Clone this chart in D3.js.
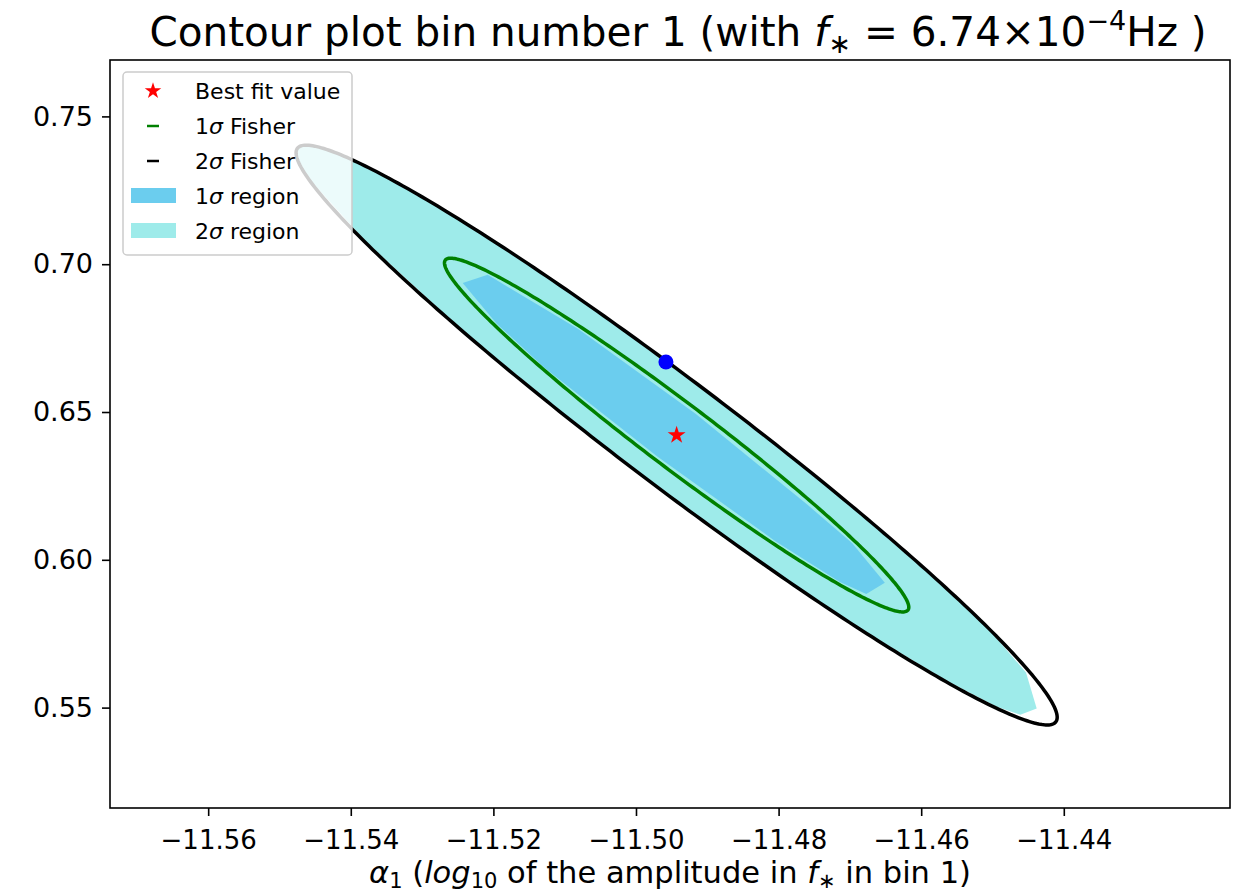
<!DOCTYPE html>
<html>
<head>
<meta charset="utf-8">
<script src="https://cdn.jsdelivr.net/npm/d3@7"></script>
<style>
  body { margin: 0; background: #fff; }
  text { font-family: "DejaVu Sans", sans-serif; fill: #000; }
</style>
</head>
<body>
<div id="chart"></div>
<script>
// axis limits and ticks
var xDomain = [-11.57377, -11.41669];
var yDomain = [0.51604, 0.76908];
var xTicks = [-11.56, -11.54, -11.52, -11.50, -11.48, -11.46, -11.44];
var yTicks = [0.55, 0.60, 0.65, 0.70, 0.75];

// best fit and the extra point
var bestFit = [-11.4943, 0.6422];
var bluePoint = [-11.4958, 0.6669];

// Fisher errors: sigma_x, sigma_y, correlation; contour levels in delta chi^2
var fisherSigma = [0.02147, 0.03945];
var fisherRho = -0.9734;
var fisherLevels = [2.30, 6.18];

// sampled contour regions (x, y)
var region2 = [
  [-11.5474, 0.7393], [-11.5458, 0.7403], [-11.5427, 0.7384], [-11.5321, 0.7258],
  [-11.5169, 0.7032], [-11.4991, 0.6732], [-11.4806, 0.6395], [-11.4638, 0.6060],
  [-11.4507, 0.5770], [-11.4453, 0.5619], [-11.4438, 0.5497], [-11.4461, 0.5476],
  [-11.4494, 0.5503], [-11.4565, 0.5592], [-11.4716, 0.5812], [-11.4894, 0.6112],
  [-11.5079, 0.6449], [-11.5247, 0.6784], [-11.5378, 0.7074], [-11.5457, 0.7285],
  [-11.5474, 0.7354]
];
var region1 = [
  [-11.5208, 0.6964], [-11.5081, 0.6781], [-11.4916, 0.6493], [-11.4759, 0.6185],
  [-11.4697, 0.6057], [-11.4651, 0.5922], [-11.4677, 0.5884], [-11.4714, 0.5925],
  [-11.4805, 0.6064], [-11.4971, 0.6351], [-11.5128, 0.6649], [-11.5195, 0.6798],
  [-11.5243, 0.6936]
];

var legendLabels = ["Best fit value", "1σ Fisher", "2σ Fisher", "1σ region", "2σ region"];

var width = 1249, height = 896;
var m = {left: 110, right: 1230, top: 60, bottom: 808};

var svg = d3.select("#chart").append("svg")
  .attr("width", width)
  .attr("height", height);

var x = d3.scaleLinear().domain(xDomain).range([m.left, m.right]);
var y = d3.scaleLinear().domain(yDomain).range([m.bottom, m.top]);

svg.append("clipPath").attr("id", "clip")
  .append("rect").attr("x", m.left).attr("y", m.top)
  .attr("width", m.right - m.left).attr("height", m.bottom - m.top);

var plot = svg.append("g").attr("clip-path", "url(#clip)");

var line = d3.line().x(function(d) { return x(d[0]); }).y(function(d) { return y(d[1]); });

// filled regions
plot.append("path").datum(region2)
  .attr("d", line.curve(d3.curveLinearClosed))
  .attr("fill", "#9eebea");
plot.append("path").datum(region1)
  .attr("d", line.curve(d3.curveLinearClosed))
  .attr("fill", "#6bcdee");

// Fisher ellipse from the covariance
function ellipse(k) {
  var sx = fisherSigma[0], sy = fisherSigma[1], r = fisherRho;
  var pts = [];
  for (var i = 0; i <= 360; i++) {
    var t = i * Math.PI / 180;
    var u = Math.cos(t) * Math.sqrt(k), v = Math.sin(t) * Math.sqrt(k);
    pts.push([bestFit[0] + sx * u, bestFit[1] + sy * (r * u + Math.sqrt(1 - r * r) * v)]);
  }
  return pts;
}

plot.append("path").datum(ellipse(fisherLevels[0]))
  .attr("d", line.curve(d3.curveLinear))
  .attr("fill", "none").attr("stroke", "#008000").attr("stroke-width", 3.5);
plot.append("path").datum(ellipse(fisherLevels[1]))
  .attr("d", line.curve(d3.curveLinear))
  .attr("fill", "none").attr("stroke", "#000").attr("stroke-width", 3.5);

// best fit star and blue point
plot.append("path")
  .attr("d", d3.symbol(d3.symbolStar).size(100)())
  .attr("transform", "translate(" + x(bestFit[0]) + "," + y(bestFit[1]) + ")")
  .attr("fill", "#ff0000");
plot.append("circle")
  .attr("cx", x(bluePoint[0])).attr("cy", y(bluePoint[1]))
  .attr("r", 7.5).attr("fill", "#0000ff");

// axes
var xAxis = svg.append("g")
  .attr("transform", "translate(0," + m.bottom + ")")
  .call(d3.axisBottom(x).tickValues(xTicks).tickFormat(d3.format(".2f")).tickSize(8).tickPadding(8).tickSizeOuter(0));
var yAxis = svg.append("g")
  .attr("transform", "translate(" + m.left + ",0)")
  .call(d3.axisLeft(y).tickValues(yTicks).tickFormat(d3.format(".2f")).tickSize(8).tickPadding(9).tickSizeOuter(0));
[xAxis, yAxis].forEach(function(a) {
  a.select(".domain").remove();
  a.selectAll("line").attr("stroke", "#000").attr("stroke-width", 1.6);
  a.selectAll("text").style("font-size", "26px").attr("fill", "#000");
});
yAxis.selectAll("text").style("font-size", "27px");
xAxis.selectAll("text").attr("dy", "0.95em");

svg.append("rect")
  .attr("x", m.left).attr("y", m.top)
  .attr("width", m.right - m.left).attr("height", m.bottom - m.top)
  .attr("fill", "none").attr("stroke", "#000").attr("stroke-width", 1.6);

// legend
var lg = svg.append("g");
lg.append("rect")
  .attr("x", 123).attr("y", 72).attr("width", 229).attr("height", 183).attr("rx", 4)
  .attr("fill", "#fff").attr("fill-opacity", 0.8)
  .attr("stroke", "#cccccc").attr("stroke-width", 1.5);

var rowY = d3.range(legendLabels.length).map(function(i) { return 91 + i * 35; });
lg.append("path")
  .attr("d", d3.symbol(d3.symbolStar).size(85)())
  .attr("transform", "translate(153," + rowY[0] + ")")
  .attr("fill", "#ff0000");
lg.append("line").attr("x1", 147).attr("x2", 159).attr("y1", rowY[1]).attr("y2", rowY[1])
  .attr("stroke", "#008000").attr("stroke-width", 2.5);
lg.append("line").attr("x1", 147).attr("x2", 159).attr("y1", rowY[2]).attr("y2", rowY[2])
  .attr("stroke", "#000").attr("stroke-width", 2.5);
lg.append("rect").attr("x", 131).attr("y", rowY[3] - 8).attr("width", 45).attr("height", 15)
  .attr("fill", "#6bcdee");
lg.append("rect").attr("x", 131).attr("y", rowY[4] - 8).attr("width", 45).attr("height", 15)
  .attr("fill", "#9eebea");

legendLabels.forEach(function(s, i) {
  var t = lg.append("text").attr("x", 195).attr("y", rowY[i]).attr("dy", "0.35em")
    .style("font-size", "22px");
  if (s.indexOf("σ") >= 0) {
    t.append("tspan").text(s.slice(0, 1));
    t.append("tspan").style("font-style", "italic").text("σ");
    t.append("tspan").text(s.slice(2));
  } else {
    t.text(s);
  }
});

// title
var title = svg.append("text")
  .attr("x", 678).attr("y", 46).attr("text-anchor", "middle")
  .style("font-size", "40.5px");
title.append("tspan").text("Contour plot bin number 1 (with ");
title.append("tspan").style("font-style", "italic").text("f");
title.append("tspan").attr("dy", 7).style("font-size", "27px").text("∗");
title.append("tspan").attr("dy", -7).text(" = 6.74×10");
title.append("tspan").attr("dy", -16).style("font-size", "27px").text("−4");
title.append("tspan").attr("dy", 16).text("Hz )");

// x label
var xl = svg.append("text")
  .attr("x", 670).attr("y", 883).attr("text-anchor", "middle")
  .style("font-size", "30.5px");
xl.append("tspan").style("font-style", "italic").text("α");
xl.append("tspan").attr("dy", 5).style("font-size", "21px").text("1");
xl.append("tspan").attr("dy", -5).text(" (");
xl.append("tspan").style("font-style", "italic").text("log");
xl.append("tspan").attr("dy", 5).style("font-size", "21px").text("10");
xl.append("tspan").attr("dy", -5).text(" of the amplitude in ");
xl.append("tspan").style("font-style", "italic").text("f");
xl.append("tspan").attr("dy", 5).style("font-size", "21px").text("∗");
xl.append("tspan").attr("dy", -5).text(" in bin 1)");
</script>
</body>
</html>
